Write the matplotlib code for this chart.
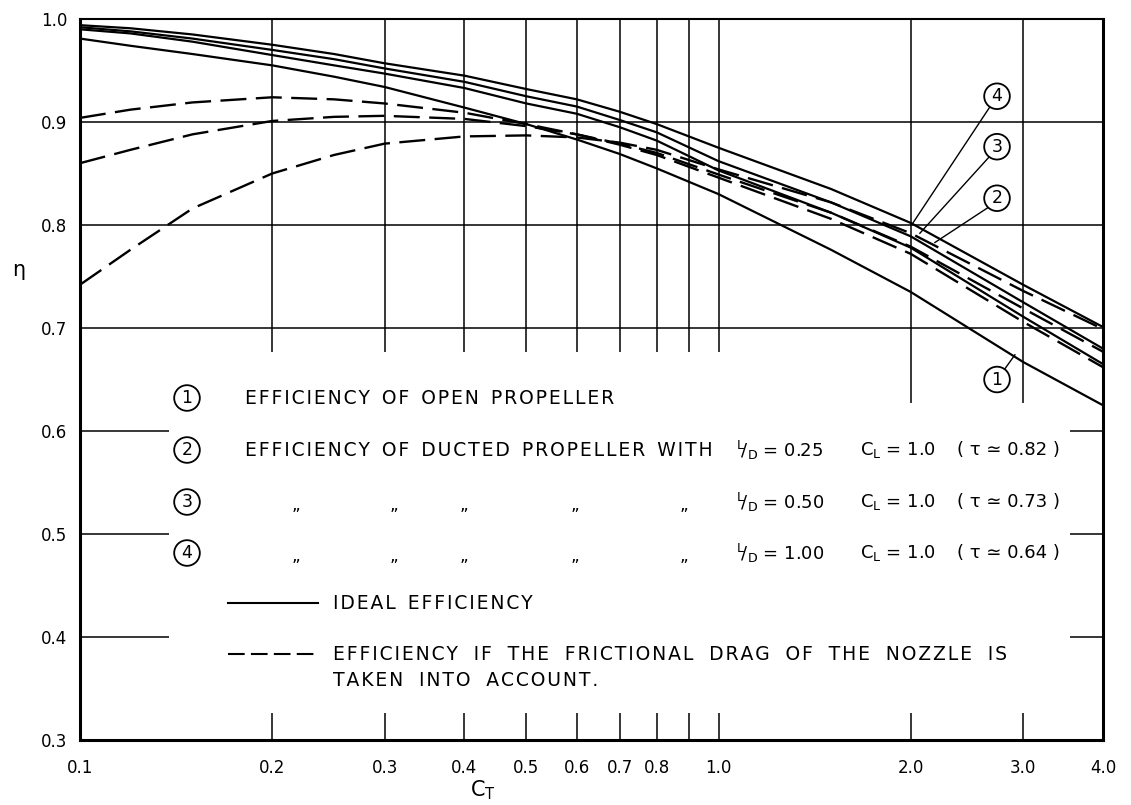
import matplotlib
matplotlib.use('Agg')
from matplotlib import pyplot as plt

plt.rcParams['font.family'] = ['DejaVu Sans']
plt.rcParams['mathtext.fontset'] = 'dejavusans'

# thrust loading values where the curves were read
ct = [0.1, 0.12, 0.15, 0.2, 0.25, 0.3, 0.4, 0.5, 0.6, 0.7, 0.8, 1.0, 1.5, 2.0, 3.0, 4.0]

# ideal efficiency (solid)
eta_open = [0.981, 0.974, 0.966, 0.955, 0.944, 0.934, 0.914, 0.898, 0.883, 0.869, 0.855,
            0.830, 0.776, 0.735, 0.667, 0.625]
eta_ld025 = [0.990, 0.986, 0.978, 0.965, 0.955, 0.947, 0.933, 0.918, 0.908, 0.895, 0.882,
             0.853, 0.812, 0.778, 0.711, 0.665]
eta_ld050 = [0.992, 0.988, 0.981, 0.970, 0.961, 0.952, 0.939, 0.925, 0.915, 0.902, 0.890,
             0.862, 0.822, 0.789, 0.725, 0.680]
eta_ld100 = [0.994, 0.991, 0.985, 0.975, 0.966, 0.957, 0.945, 0.932, 0.922, 0.910, 0.898,
             0.875, 0.835, 0.802, 0.742, 0.701]

# efficiency with nozzle friction (dashed)
eta_fr025 = [0.904, 0.912, 0.919, 0.924, 0.922, 0.918, 0.909, 0.898, 0.888, 0.878, 0.868,
             0.846, 0.806, 0.772, 0.706, 0.662]
eta_fr050 = [0.860, 0.873, 0.888, 0.901, 0.905, 0.906, 0.903, 0.896, 0.888, 0.879, 0.870,
             0.849, 0.812, 0.779, 0.719, 0.677]
eta_fr100 = [0.742, 0.776, 0.816, 0.850, 0.868, 0.879, 0.886, 0.887, 0.885, 0.880, 0.873,
             0.854, 0.822, 0.792, 0.736, 0.699]

xticks = [0.1, 0.2, 0.3, 0.4, 0.5, 0.6, 0.7, 0.8, 1.0, 2.0, 3.0, 4.0]
xtick_labels = ['0.1', '0.2', '0.3', '0.4', '0.5', '0.6', '0.7', '0.8', '1.0', '2.0', '3.0', '4.0']
yticks = [0.3, 0.4, 0.5, 0.6, 0.7, 0.8, 0.9, 1.0]
ytick_labels = ['0.3', '0.4', '0.5', '0.6', '0.7', '0.8', '0.9', '1.0']

legend_rows = [
    ('1', 'EFFICIENCY OF OPEN PROPELLER', None),
    ('2', 'EFFICIENCY OF DUCTED PROPELLER WITH', ('0.25', '1.0', '0.82')),
    ('3', None, ('0.50', '1.0', '0.73')),
    ('4', None, ('1.00', '1.0', '0.64')),
]


def spaced(s, gap='  '):
    # open up the lettering a little, like the drafting stencil
    words = s.split(' ')
    return gap.join('\u200a'.join(w) for w in words)


def main():
    fig = plt.figure(figsize=(11.31, 8.05), dpi=100)
    ax = fig.add_axes([0.0707, 0.0807, 0.9045, 0.8957])
    ax.set_xscale('log')
    ax.set_xlim(0.1, 4.0)
    ax.set_ylim(0.3, 1.0)

    # grid, broken where the key sits
    gk = dict(color='black', lw=1.1, zorder=1)
    ax.vlines([0.2, 0.3, 0.4, 0.5, 0.6, 0.7, 0.8, 0.9, 1.0], 0.677, 1.0, **gk)
    ax.vlines([2.0, 3.0], 0.627, 1.0, **gk)
    ax.vlines([0.2, 0.3, 0.4, 0.5, 0.6, 0.7, 0.8, 0.9, 1.0, 2.0, 3.0], 0.3, 0.326, **gk)
    ax.hlines([0.7, 0.8, 0.9], 0.1, 4.0, **gk)
    ax.hlines([0.4, 0.5, 0.6], 0.1, 0.138, **gk)
    ax.hlines([0.4, 0.5, 0.6], 3.55, 4.0, **gk)

    solid = dict(color='black', lw=1.6, zorder=3)
    dashed = dict(color='black', lw=1.7, dashes=(11, 4), zorder=3)
    ax.plot(ct, eta_open, **solid)
    ax.plot(ct, eta_ld025, **solid)
    ax.plot(ct, eta_ld050, **solid)
    ax.plot(ct, eta_ld100, **solid)
    ax.plot(ct, eta_fr025, **dashed)
    ax.plot(ct, eta_fr050, **dashed)
    ax.plot(ct, eta_fr100, **dashed)

    # curve numbers with leader lines
    circ = dict(boxstyle='circle,pad=0.22', fc='white', ec='black', lw=1.3)
    labels = [('4', 2.73, 0.925, 2.016, 0.802),
              ('3', 2.73, 0.876, 2.067, 0.792),
              ('2', 2.73, 0.826, 2.182, 0.783),
              ('1', 2.73, 0.650, 2.912, 0.674)]
    for num, lx, ly, px, py in labels:
        ax.plot([lx * 0.985, px], [ly - 0.006, py], color='black', lw=1.0, zorder=4)
        ax.text(lx, ly, num, ha='center', va='center', fontsize=12.5,
                bbox=circ, zorder=5)

    for s in ['left', 'bottom', 'right']:
        ax.spines[s].set_linewidth(2.2)
    ax.spines['top'].set_linewidth(1.5)

    ax.set_xticks(xticks)
    ax.set_xticklabels(xtick_labels)
    ax.set_xticks([], minor=True)
    ax.set_yticks(yticks)
    ax.set_yticklabels(ytick_labels)
    ax.tick_params(length=0, labelsize=12, pad=9)
    ax.tick_params(axis='x', pad=14)

    fig.text(0.011, 0.665, 'η', fontsize=15, ha='left', va='center')
    fig.text(0.427, 0.004, r'C$_\mathregular{T}$', fontsize=15, ha='center', va='bottom')

    # key block
    tr = fig.transFigure
    W, H = 1131.0, 805.0
    fs = 13.5
    row_y = [398, 450, 502, 553]
    ditto_x = [296, 394, 464, 575, 684]
    for (num, txt, par), yy in zip(legend_rows, row_y):
        fy = 1 - yy / H
        fig.text(187 / W, fy, num, ha='center', va='center', fontsize=12.5, bbox=circ)
        if txt:
            fig.text(245 / W, fy, spaced(txt), ha='left', va='center', fontsize=fs)
        else:
            for dx in ditto_x:
                fig.text(dx / W, fy - 0.004, '„', ha='center', va='center', fontsize=12)
        if par:
            ld, cl, tau = par
            fig.text(736 / W, fy, r'$^\mathregular{L}\!/_\mathregular{D}$ = ' + ld,
                     ha='left', va='center', fontsize=13)
            fig.text(860 / W, fy, r'C$_\mathregular{L}$ = ' + cl,
                     ha='left', va='center', fontsize=13)
            fig.text(957 / W, fy, '( τ ≃ ' + tau + ' )', ha='left', va='center', fontsize=13)

    fig.add_artist(plt.Line2D([228 / W, 318 / W], [1 - 603 / H, 1 - 603 / H],
                              color='black', lw=1.5, transform=tr))
    fig.text(333 / W, 1 - 603 / H, spaced('IDEAL EFFICIENCY'), ha='left', va='center',
             fontsize=fs)
    fig.add_artist(plt.Line2D([228 / W, 318 / W], [1 - 654 / H, 1 - 654 / H],
                              color='black', lw=1.5, dashes=(8, 3), transform=tr))
    wide = '  \u2009'
    fig.text(333 / W, 1 - 654 / H,
             spaced('EFFICIENCY IF THE FRICTIONAL DRAG OF THE NOZZLE IS', gap=wide),
             ha='left', va='center', fontsize=fs)
    fig.text(333 / W, 1 - 680 / H, spaced('TAKEN INTO ACCOUNT.', gap=wide), ha='left',
             va='center', fontsize=fs)

    fig.savefig('out.png', dpi=100)


if __name__ == '__main__':
    main()
